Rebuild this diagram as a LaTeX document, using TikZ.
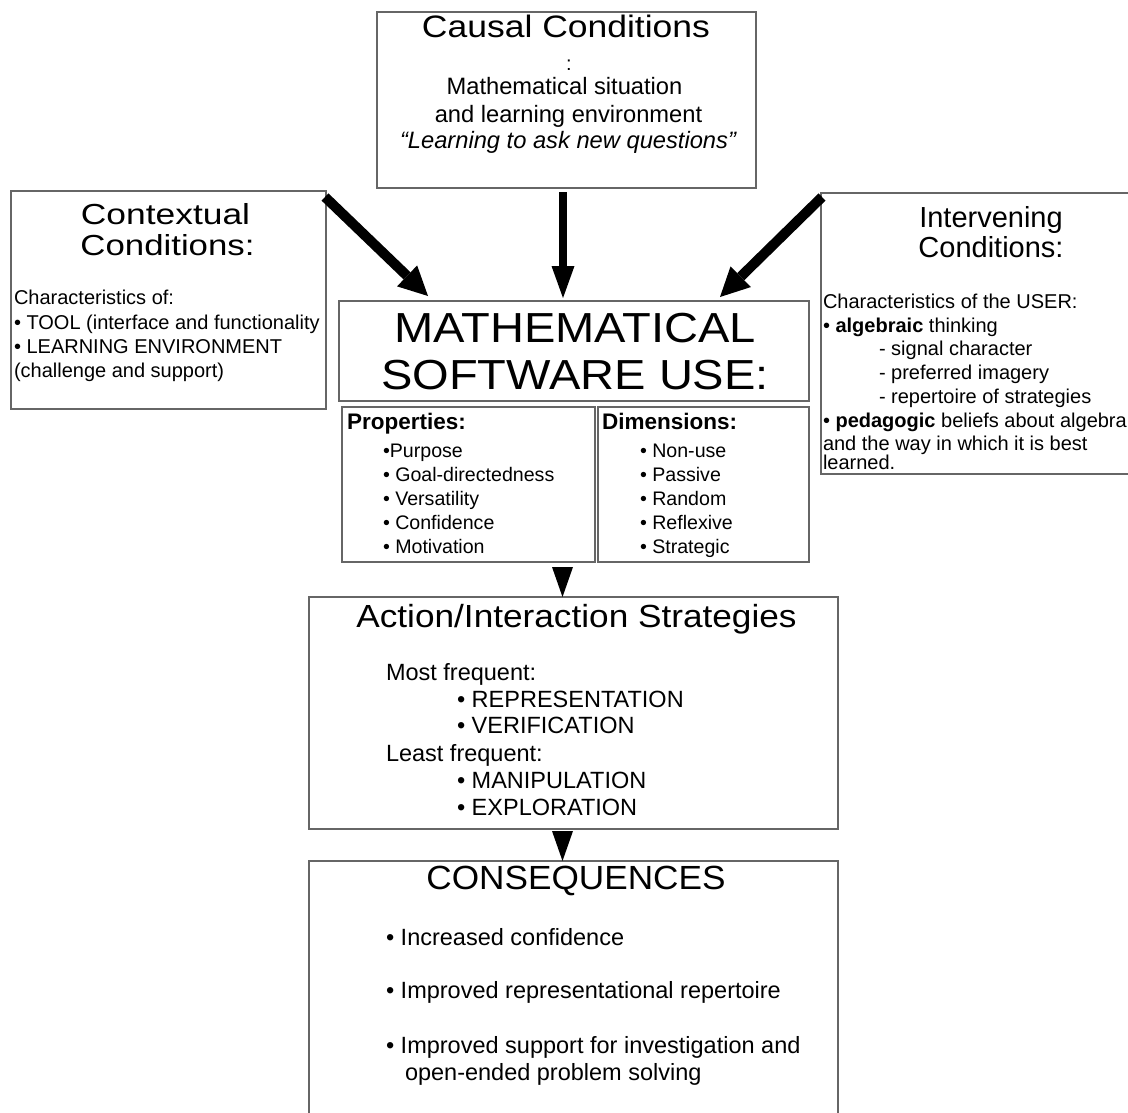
\documentclass[tikz,border=0pt]{standalone}
\usepackage{fontspec}
\setmainfont{Liberation Sans}
\usepackage{graphicx}
\usetikzlibrary{arrows.meta,calc}
\newcommand\fs[1]{\fontsize{#1}{#1}\selectfont}
\newcommand\wide[2]{\scalebox{#1}[1]{#2}}
\begin{document}
\begin{tikzpicture}[x=1pt,y=-1pt,
  panel/.style={draw=black!60, line width=2.2pt, inner sep=0pt, outer sep=0pt, anchor=north west},
  lbl/.style={inner sep=0pt, outer sep=0pt, anchor=base},
  lbll/.style={lbl, anchor=base west},
  bigarrow/.style={line width=10pt, -{Triangle[width=29pt,length=29pt,line width=0pt]}},
  midarrow/.style={line width=8pt, -{Triangle[width=23pt,length=32pt,line width=0pt]}},
  pointer/.style={line width=0.5pt, -{Triangle[width=21pt,length=30pt,line width=0pt]}}]
\useasboundingbox (0,0) rectangle (1128,1112);
\clip (0,0) rectangle (1128,1112);

% boxes
\node[panel, minimum width=379pt, minimum height=176pt] (causal) at (377,12) {};
\node[panel, minimum width=315pt, minimum height=218pt] (context) at (11,191) {};
\node[panel, minimum width=340pt, minimum height=281pt] (interv) at (821,193) {};
\node[panel, minimum width=470pt, minimum height=100pt] (msu) at (339,301) {};
\node[panel, minimum width=253pt, minimum height=155pt] (props) at (342,407) {};
\node[panel, minimum width=211pt, minimum height=155pt] (dims) at (598,407) {};
\node[panel, minimum width=529pt, minimum height=232pt] (action) at (309,597) {};
\node[panel, minimum width=529pt, minimum height=300pt] (conseq) at (309,861) {};

% connectors
\draw[bigarrow] ($(context.north east)+(-1,6)$) -- ($(msu.north west)+(89,-5)$);
\draw[midarrow] ($(causal.south)+(-3.5,4)$) -- ($(msu.north)+(-11,-3)$);
\draw[bigarrow] ($(interv.north west)+(1,4)$) -- ($(msu.north east)+(-89,-4)$);
\draw[pointer] ($(props.south east)+(-32.5,5)$) -- ($(action.north)+(-11,0)$);
\draw[pointer] ($(action.south)+(-11,2)$) -- ($(conseq.north)+(-11,0)$);

% causal conditions
\node[lbl] (causalT) at (566,37) {\fs{31}\wide{1.145}{Causal Conditions}};
\node[lbl] (causalC) at (569,70) {\fs{20}:};
\node[lbl] (causalA) at (564.5,94) {\fs{23.7}Mathematical situation};
\node[lbl] (causalB) at (568.5,122) {\fs{23.7}and learning environment};
\node[lbl] (causalD) at (568,148) {\fs{23.7}\itshape “Learning to ask new questions”};

% contextual conditions
\node[lbl] (ctxA) at (165.5,224) {\fs{29}\wide{1.22}{Contextual}};
\node[lbl] (ctxB) at (167.5,255) {\fs{29}\wide{1.2}{Conditions:}};
\node[lbll] (ctxC) at (14,304) {\fs{20}Characteristics of:};
\node[lbll] (ctxD) at (14,329) {\fs{20}• TOOL (interface and functionality};
\node[lbll] (ctxE) at (14,353) {\fs{20}• LEARNING ENVIRONMENT};
\node[lbll] (ctxF) at (14,377) {\fs{20}(challenge and support)};

% intervening conditions
\node[lbl] (ivA) at (991,227) {\fs{29}Intervening};
\node[lbl] (ivB) at (991,257) {\fs{29}Conditions:};
\node[lbll] (ivC) at (823,308) {\fs{20}Characteristics of the USER:};
\node[lbll] (ivD) at (823,332) {\fs{20}• \textbf{algebraic} thinking};
\node[lbll] (ivE) at (879,355) {\fs{20}- signal character};
\node[lbll] (ivF) at (879,379) {\fs{20}- preferred imagery};
\node[lbll] (ivG) at (879,403) {\fs{20}- repertoire of strategies};
\node[lbll] (ivH) at (823,427) {\fs{20}• \textbf{pedagogic} beliefs about algebra};
\node[lbll] (ivI) at (823,450) {\fs{20}and the way in which it is best};
\node[lbll] (ivJ) at (823,469) {\fs{20}learned.};

% core category
\node[lbl] (msuA) at (575,342) {\fs{42}\wide{1.12}{MATHEMATICAL}};
\node[lbl] (msuB) at (575,389) {\fs{42}\wide{1.12}{SOFTWARE USE:}};

% properties and dimensions
\node[lbll] (propT) at (347,429) {\fs{22.5}\bfseries Properties:};
\node[lbll] (propA) at (383,457) {\fs{19.6}•Purpose};
\node[lbll] (propB) at (383,481) {\fs{19.6}• Goal-directedness};
\node[lbll] (propC) at (383,505) {\fs{19.6}• Versatility};
\node[lbll] (propD) at (383,529) {\fs{19.6}• Confidence};
\node[lbll] (propE) at (383,553) {\fs{19.6}• Motivation};
\node[lbll] (dimT) at (602,429) {\fs{22.5}\bfseries Dimensions:};
\node[lbll] (dimA) at (640,457) {\fs{19.6}• Non-use};
\node[lbll] (dimB) at (640,481) {\fs{19.6}• Passive};
\node[lbll] (dimC) at (640,505) {\fs{19.6}• Random};
\node[lbll] (dimD) at (640,529) {\fs{19.6}• Reflexive};
\node[lbll] (dimE) at (640,553) {\fs{19.6}• Strategic};

% action / interaction strategies
\node[lbl] (actT) at (576.5,627) {\fs{32}\wide{1.1}{Action/Interaction Strategies}};
\node[lbll] (actA) at (386,680) {\fs{23.5}Most frequent:};
\node[lbll] (actB) at (457,707) {\fs{23.5}• REPRESENTATION};
\node[lbll] (actC) at (457,733) {\fs{23.5}• VERIFICATION};
\node[lbll] (actD) at (386,761) {\fs{23.5}Least frequent:};
\node[lbll] (actE) at (457,788) {\fs{23.5}• MANIPULATION};
\node[lbll] (actF) at (457,815) {\fs{23.5}• EXPLORATION};

% consequences
\node[lbl] (conT) at (576,889) {\fs{33.5}\wide{1.05}{CONSEQUENCES}};
\node[lbll] (conA) at (386,945) {\fs{23.5}• Increased confidence};
\node[lbll] (conB) at (386,998) {\fs{23.5}• Improved representational repertoire};
\node[lbll] (conC) at (386,1053) {\fs{23.5}• Improved support for investigation and};
\node[lbll] (conD) at (405,1080) {\fs{23.5}open-ended problem solving};
\end{tikzpicture}
\end{document}
